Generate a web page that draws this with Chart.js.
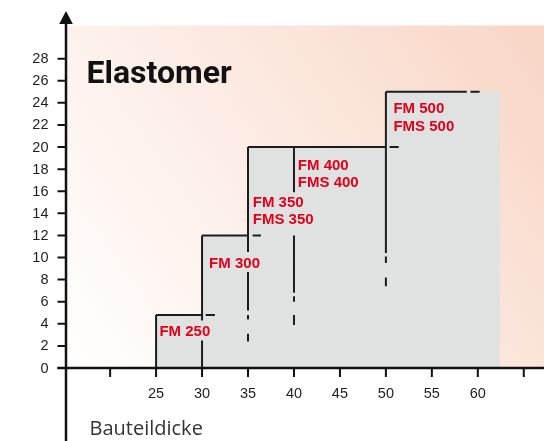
<!DOCTYPE html>
<html>
<head>
<meta charset="utf-8">
<title>Elastomer</title>
<script src="https://cdn.jsdelivr.net/npm/chart.js@4.4.1/dist/chart.umd.min.js"></script>
<style>
	body { margin: 0; background: #fff; }
	#chart-area { display: block; }
</style>
</head>
<body>
<canvas id="chart-area" width="544" height="441"></canvas>
<script>
	// Bauteildicke (x) against step height (y)
	var stepEdges = [25, 30, 35, 50, 62.4];
	var stepLevels = [4.8, 12, 20, 25, 25];

	// black outline, horizontal pieces
	var hLineY = [4.8, 12, 20, 25, 4.8, 12, 20, 25];
	var hLineFrom = [25, 30, 35, 50, 30.4, 35.5, 50.4, 59.2];
	var hLineTo = [30, 35, 50, 58.8, 31.4, 36.4, 51.4, 60.2];

	// black outline, vertical pieces (broken where dashed)
	var vLineX = [25, 30, 30, 35, 35, 35, 35, 40, 40, 40, 40, 50, 50, 50];
	var vLineFrom = [0, 12, 2.5, 20, 8.7, 4.8, 3.1, 20, 12, 6.5, 4.8, 25, 10.1, 8.2];
	var vLineTo = [4.8, 4.3, 0, 10.5, 5.2, 4.4, 2.4, 15.9, 6.8, 6.0, 3.9, 10.4, 9.5, 7.4];

	var xTicks = [20, 25, 30, 35, 40, 45, 50, 55, 60, 65];
	var xTickLabels = ['', '25', '30', '35', '40', '45', '50', '55', '60', ''];
	var yTicks = [0, 2, 4, 6, 8, 10, 12, 14, 16, 18, 20, 22, 24, 26, 28];

	var typeNames = ['FM 250', 'FM 300', 'FM 350', 'FMS 350', 'FM 400', 'FMS 400', 'FM 500', 'FMS 500'];
	var typeX = [25.36, 30.77, 35.52, 35.52, 40.42, 40.42, 50.82, 50.82];
	var typeY = [3.26, 9.46, 14.95, 13.38, 18.34, 16.79, 23.41, 21.83];

	function init () {
		var ctx = document.getElementById('chart-area').getContext('2d');
		new Chart(ctx, buildConfig());
	}

	function outlinePoints () {
		var pts = [];
		for (var i = 0; i < hLineY.length; i++) {
			pts.push({x: hLineFrom[i], y: hLineY[i]});
			pts.push({x: hLineTo[i], y: hLineY[i]});
			pts.push({x: hLineTo[i], y: null});
		}
		for (var j = 0; j < vLineX.length; j++) {
			pts.push({x: vLineX[j], y: vLineFrom[j]});
			pts.push({x: vLineX[j], y: vLineTo[j]});
			pts.push({x: vLineX[j], y: null});
		}
		return pts;
	}

	function fillPoints () {
		var pts = [];
		for (var i = 0; i < stepEdges.length; i++) {
			pts.push({x: stepEdges[i], y: stepLevels[i]});
		}
		return pts;
	}

	var paperPlugin = {
		id: 'paper',
		beforeDraw: function (chart) {
			var c = chart.ctx, a = chart.chartArea;
			var g = c.createLinearGradient(a.left, a.bottom, a.right, a.top);
			g.addColorStop(0, '#ffffff');
			g.addColorStop(0.5, '#fcebe3');
			g.addColorStop(1, '#f8d5c4');
			c.save();
			c.fillStyle = g;
			c.fillRect(a.left, a.top, a.right - a.left, a.bottom - a.top);
			c.restore();
		},
		afterDatasetsDraw: function (chart) {
			var c = chart.ctx;
			var xs = chart.scales.x, ys = chart.scales.y;
			var x0 = xs.getPixelForValue(xs.min);
			var y0 = ys.getPixelForValue(0);
			c.save();
			c.strokeStyle = '#111';
			c.fillStyle = '#111';

			// axes
			c.lineWidth = 2.5;
			c.beginPath();
			c.moveTo(x0, 22);
			c.lineTo(x0, chart.height);
			c.moveTo(x0 - 8.5, y0);
			c.lineTo(chart.width, y0);
			c.stroke();

			// arrow head
			c.beginPath();
			c.moveTo(x0, 11);
			c.lineTo(x0 - 6.8, 24);
			c.lineTo(x0 + 6.8, 24);
			c.closePath();
			c.fill();

			// ticks
			c.lineWidth = 2;
			c.beginPath();
			yTicks.forEach(function (v) {
				var py = ys.getPixelForValue(v);
				c.moveTo(x0 - 8.5, py);
				c.lineTo(x0, py);
			});
			xTicks.forEach(function (v) {
				var px = xs.getPixelForValue(v);
				c.moveTo(px, y0);
				c.lineTo(px, y0 + 9);
			});
			c.stroke();

			// tick labels
			c.fillStyle = '#1e1e1e';
			c.font = '14.5px "Liberation Sans", Arial, sans-serif';
			c.textAlign = 'right';
			c.textBaseline = 'middle';
			yTicks.forEach(function (v) {
				c.fillText(String(v), x0 - 17.5, ys.getPixelForValue(v) + 0.5);
			});
			c.textAlign = 'center';
			xTicks.forEach(function (v, i) {
				c.fillText(xTickLabels[i], xs.getPixelForValue(v), y0 + 25.5);
			});

			// axis title
			c.textAlign = 'left';
			c.fillStyle = '#333';
			c.font = '20px "Open Sans", sans-serif';
			c.fillText('Bauteildicke', 89.5, 429);

			// chart title
			c.fillStyle = '#111';
			c.textBaseline = 'alphabetic';
			c.font = 'bold 32px Roboto, sans-serif';
			c.fillText('Elastomer', 86.5, 82.5);

			// type labels
			c.fillStyle = '#e2001a';
			c.font = 'bold 15px "Liberation Sans", Arial, sans-serif';
			c.textBaseline = 'middle';
			typeNames.forEach(function (t, i) {
				c.fillText(t, xs.getPixelForValue(typeX[i]), ys.getPixelForValue(typeY[i]));
			});
			c.restore();
		}
	};

	function buildConfig () {
		return {
			type: 'line',
			data: {
				datasets: [{
					// outline first so it sits on top of the grey area
					data: outlinePoints(),
					spanGaps: false,
					fill: false,
					borderColor: '#1c1c1c',
					borderWidth: 2,
					pointRadius: 0,
					tension: 0
				}, {
					data: fillPoints(),
					stepped: 'before',
					fill: 'origin',
					backgroundColor: '#e0e1e1',
					borderWidth: 0,
					pointRadius: 0
				}]
			},
			options: {
				responsive: false,
				animation: false,
				devicePixelRatio: 1,
				layout: {
					padding: {left: 66, right: 0, top: 25.5, bottom: 73}
				},
				plugins: {
					legend: {display: false},
					tooltip: {enabled: false}
				},
				scales: {
					x: {type: 'linear', min: 15.2, max: 67.2, display: false},
					y: {type: 'linear', min: 0, max: 31, display: false}
				}
			},
			plugins: [paperPlugin]
		};
	}

	init();
</script>
</body>
</html>
